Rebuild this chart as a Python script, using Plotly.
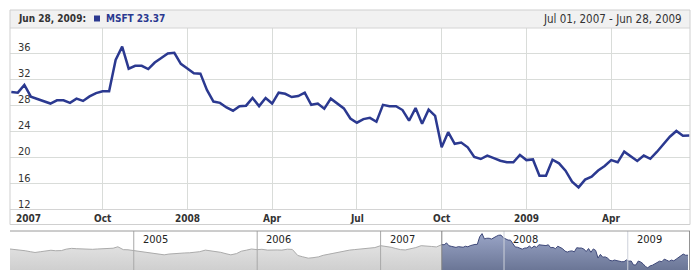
import plotly.graph_objects as go
import pandas as pd

W, H = 700, 280

# ---------------- data ----------------
# weekly MSFT closes, starting 2007-07-01 (one point per week)
msft_weekly = [
    30.08, 29.97, 31.15, 29.35, 29.00, 28.70, 28.30, 28.80, 28.80, 28.40,
    29.05, 28.70, 29.40, 29.90, 30.20, 30.20, 35.00, 37.05, 33.66, 34.10,
    34.10, 33.60, 34.60, 35.30, 36.00, 36.10, 34.40, 33.70, 32.95, 32.90,
    30.40, 28.60, 28.40, 27.70, 27.20, 27.90, 27.97, 29.15, 27.90, 29.15,
    28.30, 29.97, 29.80, 29.30, 29.46, 29.97, 28.10, 28.30, 27.50, 29.05,
    28.30, 27.55, 26.00, 25.35, 25.90, 26.10, 25.50, 28.10, 27.90, 27.90,
    27.30, 25.66, 27.60, 25.20, 27.35, 26.40, 21.57, 23.90, 22.10, 22.30,
    21.57, 20.10, 19.77, 20.30, 19.90, 19.50, 19.26, 19.26, 20.40, 19.60,
    19.70, 17.20, 17.20, 19.66, 19.10, 17.97, 16.28, 15.40, 16.60, 17.05,
    18.00, 18.70, 19.60, 19.26, 20.90, 20.20, 19.46, 20.30, 19.80, 20.85,
    21.97, 23.20, 24.08, 23.35, 23.37,
]
main_start = "2007-07-01"

# semi-monthly history shown in the navigator (Jan 2004 - Jun 2007)
hist_values = [
    27.3, 27.0, 26.7, 26.2, 25.6, 25.1, 25.6, 26.0, 26.5, 26.2, 26.3, 27.2,
    27.7, 27.5, 27.3, 27.0, 27.1, 27.3, 27.6, 27.5, 27.8, 28.7, 26.9, 26.8,
    26.3, 25.8, 25.3, 25.0, 24.4, 23.7, 23.6, 24.1, 24.5, 24.6, 24.8, 24.9,
    25.3, 25.6, 26.6, 26.2, 25.7, 25.2, 24.3, 23.6, 24.4, 25.9, 26.6, 27.3,
    26.9, 27.1, 26.6, 26.8, 26.7, 26.6, 27.2, 27.0, 23.2, 22.4, 21.5, 21.8,
    22.3, 23.3, 24.0, 24.6, 25.6, 26.1, 26.6, 26.9, 27.2, 27.5, 27.8, 28.2,
    29.4, 29.0, 28.4, 27.6, 26.9, 26.7, 27.4, 28.2, 29.4, 29.0, 28.9, 28.6,
]
hist_start, hist_end = "2004-01-01", "2007-06-30"

y_ticks = [12, 16, 20, 24, 28, 32, 36]
quarter_ticks = ["2007-10-07", "2008-01-06", "2008-04-06", "2008-07-06",
                 "2008-10-05", "2009-01-04", "2009-04-05"]
quarter_labels = ["Oct", "2008", "Apr", "Jul", "Oct", "2009", "Apr"]
first_label = "2007"
nav_years = ["2005-01-01", "2006-01-01", "2007-01-01", "2008-01-01", "2009-01-01"]
nav_year_labels = ["2005", "2006", "2007", "2008", "2009"]
series_name = "MSFT"

# ---------------- derived ----------------
main_dates = pd.date_range(main_start, periods=len(msft_weekly), freq="7D")
hist_dates = pd.date_range(hist_start, hist_end, freq="SMS")

FONT = "'DejaVu Sans Condensed', 'Liberation Sans', sans-serif"
LINE = "#2b3990"
GRID = "#d9dcd9"
TXT = "#333333"
BOLD_SIZE = 10


def px(x):
    return x / W


def py(y):
    return 1 - y / H


fig = go.Figure()

# navigator history (unselected)
fig.add_trace(go.Scatter(
    x=list(hist_dates) + [main_dates[0]], y=hist_values + [msft_weekly[0]],
    xaxis="x2", yaxis="y2", mode="lines", fill="tozeroy",
    line=dict(color="#ababab", width=1),
    fillgradient=dict(type="vertical", start=14, stop=30,
                      colorscale=[[0, "#cfcfcf"], [1, "#e2e2e2"]]),
    hoverinfo="skip", showlegend=False))
# navigator selected range
fig.add_trace(go.Scatter(
    x=main_dates, y=msft_weekly, xaxis="x2", yaxis="y2", mode="lines",
    fill="tozeroy", line=dict(color="#3d4778", width=1),
    fillgradient=dict(type="vertical", start=14, stop=37,
                      colorscale=[[0, "#6b7696"], [1, "#99a4c6"]]),
    hoverinfo="skip", showlegend=False))
# main line
fig.add_trace(go.Scatter(
    x=main_dates, y=msft_weekly, mode="lines",
    line=dict(color=LINE, width=2.5), name=series_name, showlegend=False))

shapes = []
# header bar
shapes.append(dict(type="rect", xref="paper", yref="paper",
                   x0=px(10), x1=px(690), y0=py(10), y1=py(28),
                   fillcolor="#f1f1f1", line=dict(width=0), layer="below"))
shapes.append(dict(type="line", xref="paper", yref="paper",
                   x0=px(10), x1=px(690), y0=py(28), y1=py(28),
                   line=dict(color="#d4d4d4", width=1)))
# x label band top line
shapes.append(dict(type="line", xref="paper", yref="paper",
                   x0=px(10), x1=px(690), y0=py(209.5), y1=py(209.5),
                   line=dict(color="#d4d4d4", width=1)))
# outer frame
shapes.append(dict(type="rect", xref="paper", yref="paper",
                   x0=px(10), x1=px(690), y0=py(10), y1=py(224.5),
                   line=dict(color="#cfcfcf", width=1)))
# navigator year lines
for d in nav_years:
    c = "#cdd1da" if pd.Timestamp(d) > pd.Timestamp(main_start) else "#a8a8a8"
    shapes.append(dict(type="line", xref="x2", yref="y2 domain",
                       x0=d, x1=d, y0=0, y1=1, line=dict(color=c, width=1)))
# navigator top border and selection borders
shapes.append(dict(type="line", xref="paper", yref="y2 domain",
                   x0=px(10), x1=px(690), y0=1, y1=1,
                   line=dict(color="#9a9a9a", width=1)))
for d in [main_dates[0], main_dates[-1] + pd.Timedelta(days=5)]:
    shapes.append(dict(type="line", xref="x2", yref="y2 domain",
                       x0=d, x1=d, y0=0, y1=1,
                       line=dict(color="#808080", width=1)))
# legend square in header
shapes.append(dict(type="rect", xref="paper", yref="paper",
                   x0=px(94), x1=px(100), y0=py(15.5), y1=py(21.5),
                   fillcolor=LINE, line=dict(width=0)))

ann = []
for v in y_ticks:
    ann.append(dict(xref="paper", yref="y", x=px(16), y=v, text=str(v),
                    xanchor="left", yanchor="middle", yshift=5.5,
                    showarrow=False, font=dict(size=11, color=TXT)))
ann.append(dict(xref="paper", yref="paper", x=px(14), y=py(218),
                text="<b>%s</b>" % first_label, xanchor="left", yanchor="middle",
                showarrow=False, font=dict(size=BOLD_SIZE, color=TXT)))
for d, t in zip(quarter_ticks, quarter_labels):
    ann.append(dict(xref="x", yref="paper", x=d, y=py(218),
                    text="<b>%s</b>" % t, xanchor="center", yanchor="middle",
                    showarrow=False, font=dict(size=BOLD_SIZE, color=TXT)))
for d, t in zip(nav_years, nav_year_labels):
    ann.append(dict(xref="x2", yref="paper", x=d, y=py(239), xshift=7,
                    text=t, xanchor="left", yanchor="middle",
                    showarrow=False, font=dict(size=11, color="#222222")))
last_date = main_dates[-1]
ann.append(dict(xref="paper", yref="paper", x=px(16), y=py(19),
                text="<b>%s:</b>" % last_date.strftime("%b %d, %Y"),
                xanchor="left", yanchor="middle", showarrow=False,
                font=dict(size=BOLD_SIZE, color=TXT)))
ann.append(dict(xref="paper", yref="paper", x=px(104), y=py(19),
                text="<b>%s %.2f</b>" % (series_name, msft_weekly[-1]),
                xanchor="left", yanchor="middle", showarrow=False,
                font=dict(size=BOLD_SIZE, color=LINE)))
ann.append(dict(xref="paper", yref="paper", x=px(684), y=py(19),
                text="%s - %s" % (main_dates[0].strftime("%b %d, %Y"),
                                  last_date.strftime("%b %d, %Y")),
                xanchor="right", yanchor="middle", showarrow=False,
                font=dict(size=11.5, color=TXT)))

fig.update_layout(
    width=W, height=H, margin=dict(l=0, r=0, t=0, b=0),
    paper_bgcolor="white", plot_bgcolor="white",
    font=dict(family=FONT, size=11, color=TXT),
    showlegend=False, hovermode=False,
    xaxis=dict(domain=[px(10), px(690)], type="date",
               range=["2007-06-29 14:00", "2009-06-28 15:00"],
               tickvals=quarter_ticks, showticklabels=False, ticks="",
               showgrid=True, gridcolor=GRID, gridwidth=1,
               zeroline=False, showline=False, fixedrange=True),
    yaxis=dict(domain=[py(209.5), py(28)], range=[12, 39.92],
               tickvals=y_ticks, showticklabels=False, ticks="",
               showgrid=True, gridcolor=GRID, gridwidth=1,
               zeroline=False, showline=False, fixedrange=True),
    xaxis2=dict(domain=[px(10), px(690)], anchor="y2", type="date",
                range=["2004-01-01", "2009-07-04"], showgrid=False,
                showticklabels=False, ticks="", zeroline=False,
                showline=False, fixedrange=True),
    yaxis2=dict(domain=[py(270), py(231)], anchor="x2", range=[14, 38.7],
                showgrid=False, showticklabels=False, ticks="",
                zeroline=False, showline=False, fixedrange=True),
    shapes=shapes, annotations=ann,
)

fig.write_html("out.html")
